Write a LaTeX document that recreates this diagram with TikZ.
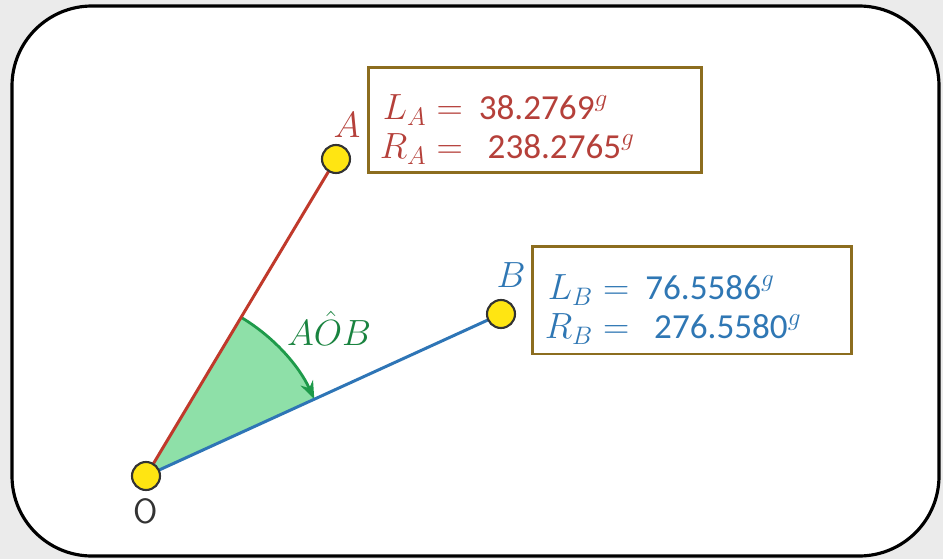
\documentclass[tikz,border=0pt]{standalone}
\usepackage{fontspec}
\setmainfont{Carlito}
\usetikzlibrary{arrows.meta}
\definecolor{lineA}{HTML}{C0392B}
\definecolor{lineB}{HTML}{2E75B6}
\definecolor{txtA}{HTML}{B5403A}
\definecolor{txtB}{HTML}{2F77B4}
\definecolor{boxcol}{HTML}{8C6D1F}
\definecolor{sector}{HTML}{8EE0A8}
\definecolor{arccol}{HTML}{1E9A4A}
\definecolor{pointcol}{HTML}{FFE512}
\tikzset{
  pt/.style={circle,draw=black!80,line width=1.2pt,fill=pointcol,minimum size=0.56cm,inner sep=0pt},
  valbox/.style={draw=boxcol,line width=1.7pt,fill=white,inner sep=0pt},
  valtext/.style={anchor=west,inner sep=0pt,font=\fontsize{20}{22}\selectfont},
  ptlabel/.style={font=\fontsize{20}{22}\selectfont}
}
\begin{document}
\begin{tikzpicture}[x=0.02cm,y=0.02cm,>=Stealth]
\fill[black!8](0,0)rectangle(943,559);
\useasboundingbox(0,0)rectangle(943,559);
\draw[line width=1.8pt,fill=white,rounded corners=1.6cm](12,3)rectangle(939,553);
\coordinate(O)at(146,83);
\coordinate(A)at(336,400);
\coordinate(B)at(501,245);
% angle AOB
\fill[sector](O)--++(59.06:185)arc[start angle=59.06,end angle=24.53,radius=185]--cycle;
\draw[->,arccol,line width=1.6pt](O)++(59.06:185)arc[start angle=59.06,end angle=24.53,radius=185];
\draw[lineA,line width=1.7pt](O)--(A);
\draw[lineB,line width=1.7pt](O)--(B);
\node[pt](Opt)at(O){};
\node[pt](Apt)at(A){};
\node[pt](Bpt)at(B){};
\node[ptlabel,text=black!80,font=\fontsize{20}{22}\sffamily](Olab)at(146,48){O};
\node[ptlabel,text=txtA](Alab)at(347,434){$A$};
\node[ptlabel,text=txtB](Blab)at(511,284){$B$};
\node[ptlabel,text=arccol!85!black](ang)at(329,231){$A\hat{O}B$};
% value boxes
\node[valbox,minimum width=6.68cm,minimum height=2.12cm](boxA)at(535,439){};
\node[valtext,text=txtA](valA)at([xshift=0.26cm,yshift=-0.23cm]boxA.west){%
  \begin{tabular}{@{}r@{\,}l@{}}$L_A={}$&38.2769$^g$\\$R_A={}$&\hspace{-0.2em}\ \ 238.2765$^g$\end{tabular}};
\node[valbox,minimum width=6.4cm,minimum height=2.16cm](boxB)at(692,259){};
\node[valtext,text=txtB](valB)at([xshift=0.28cm,yshift=-0.23cm]boxB.west){%
  \begin{tabular}{@{}r@{\,}l@{}}$L_B={}$&76.5586$^g$\\$R_B={}$&\hspace{-0.2em}\ \ 276.5580$^g$\end{tabular}};
\end{tikzpicture}
\end{document}
